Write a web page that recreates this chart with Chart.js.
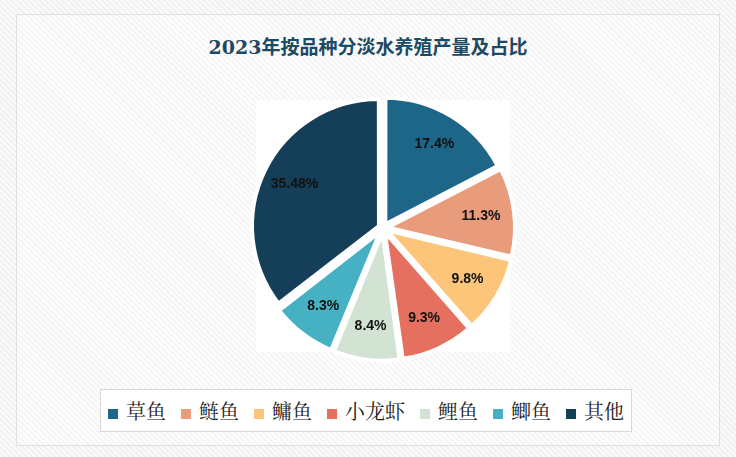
<!DOCTYPE html>
<html><head><meta charset="utf-8">
<script src="https://cdn.jsdelivr.net/npm/chart.js@4"></script>
<style>
body{margin:0;width:736px;height:457px;background:repeating-linear-gradient(45deg,#fafafa 0 2px,#f1f1f1 2px 4px);font-family:"Noto Serif CJK SC","Noto Sans CJK SC",serif;position:relative;overflow:hidden}
#card{position:absolute;left:16px;top:14px;width:702px;height:430px;border:1px solid #e0e0e0;background:repeating-linear-gradient(45deg,#fdfdfd 0 2px,#f5f5f5 2px 4px)}
#title{position:absolute;left:0;top:32px;width:736px;text-align:center;font-size:19px;font-weight:bold;color:#1c4a62;font-family:"DejaVu Serif","Noto Sans CJK SC",serif}
#pieBg{position:absolute;left:256px;top:100px;width:254px;height:252px;background:#fff}
#box{position:absolute;left:246px;top:91px;width:274px;height:274px}
#legend{position:absolute;left:100px;top:389px;width:530px;height:41px;border:1px solid #d8d8d8;background:#fff;display:flex;align-items:center;justify-content:center;gap:15px;font-size:20px;color:#222}
#legend span i{display:inline-block;width:10px;height:10px;margin-right:8px;vertical-align:middle}
</style></head><body>
<div id="card"></div>
<div id="title">2023年按品种分淡水养殖产量及占比</div>
<div id="pieBg"></div>
<div id="box"><canvas id="pie"></canvas></div>
<div id="legend"></div>
<script>
const categories = ['草鱼', '鲢鱼', '鳙鱼', '小龙虾', '鲤鱼', '鲫鱼', '其他'];
const shares = [17.4, 11.3, 9.8, 9.3, 8.4, 8.3, 35.48];
const labels = ['17.4%', '11.3%', '9.8%', '9.3%', '8.4%', '8.3%', '35.48%'];
const colors = ['#1e6688', '#e89c7c', '#fdc57a', '#e6705f', '#d3e3d3', '#46b1c3', '#153f58'];

const legend = document.getElementById('legend');
categories.forEach((c, i) => {
    legend.innerHTML += '<span><i style="background:' + colors[i] + '"></i>' + c + '</span>';
});

// draw the percentage inside each slice, a bit toward the rim
const sliceLabels = {
    id: 'sliceLabels',
    afterDatasetsDraw(chart) {
        const ctx = chart.ctx;
        ctx.save();
        ctx.font = 'bold 14px "Liberation Sans", Arial, sans-serif';
        ctx.fillStyle = '#111';
        ctx.textAlign = 'center';
        ctx.textBaseline = 'middle';
        chart.getDatasetMeta(0).data.forEach((arc, i) => {
            const mid = (arc.startAngle + arc.endAngle) / 2;
            const r = arc.outerRadius * 0.64 + arc.options.offset;
            ctx.fillText(labels[i], arc.x + Math.cos(mid) * r, arc.y + Math.sin(mid) * r);
        });
        ctx.restore();
    }
};

new Chart(document.getElementById('pie'), {
    type: 'pie',
    data: {
        labels: categories,
        datasets: [{
            data: shares,
            backgroundColor: colors,
            borderColor: '#fff',
            borderWidth: 4,
            offset: 18
        }]
    },
    options: {
        responsive: true,
        maintainAspectRatio: false,
        animation: false,
        plugins: { legend: { display: false }, tooltip: { enabled: false } }
    },
    plugins: [sliceLabels]
});
</script>
</body></html>
